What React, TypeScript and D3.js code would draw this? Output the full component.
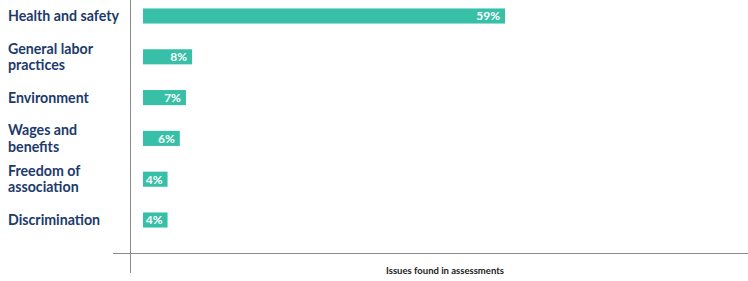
import React, { useEffect, useRef } from 'react';
import * as d3 from 'd3';

const categories = [
  ['Health and safety'],
  ['General labor', 'practices'],
  ['Environment'],
  ['Wages and', 'benefits'],
  ['Freedom of', 'association'],
  ['Discrimination'],
];
const values = [59, 8, 7, 6, 4, 4];
const axisTitle = 'Issues found in assessments';

export default function App() {
  const ref = useRef<SVGSVGElement>(null);

  useEffect(() => {
    const width = 748;
    const height = 281;
    const svg = d3.select(ref.current);
    svg.selectAll('*').remove();

    const x = d3.scaleLinear().domain([0, 59]).range([143, 505]);
    const y = d3.scaleBand<number>()
      .domain(d3.range(values.length))
      .range([-4.4, 240.4])
      .paddingInner(0.63)
      .paddingOuter(0.315);

    const font = 'Lato, "Open Sans", sans-serif';

    // bars
    const g = svg.append('g');
    g.selectAll('rect')
      .data(values)
      .join('rect')
      .attr('x', x(0))
      .attr('y', (_, i) => y(i)!)
      .attr('width', d => x(d) - x(0))
      .attr('height', y.bandwidth())
      .attr('fill', '#38bfa7');

    g.selectAll('text.val')
      .data(values)
      .join('text')
      .attr('class', 'val')
      .attr('x', d => x(d) - 5)
      .attr('y', (_, i) => y(i)! + y.bandwidth() / 2)
      .attr('dy', '0.36em')
      .attr('text-anchor', 'end')
      .attr('fill', '#fff')
      .attr('font-family', font)
      .attr('font-weight', 700)
      .attr('font-size', 12)
      .text(d => `${d}%`);

    // category labels
    const lab = svg.append('g');
    categories.forEach((lines, i) => {
      const cy = y(i)! + y.bandwidth() / 2;
      const lh = 16.5;
      const t = lab.append('text')
        .attr('font-family', font)
        .attr('font-weight', 700)
        .attr('font-size', 14.2)
        .attr('fill', '#1d3a6b');
      lines.forEach((line, j) => {
        t.append('tspan')
          .attr('x', 8)
          .attr('y', cy + (j - (lines.length - 1) / 2) * lh)
          .attr('dy', '0.35em')
          .text(line);
      });
    });

    // axes lines
    svg.append('line')
      .attr('x1', 130.5).attr('x2', 130.5)
      .attr('y1', 0).attr('y2', 273)
      .attr('stroke', '#8a8a8a').attr('stroke-width', 1);
    svg.append('line')
      .attr('x1', 113).attr('x2', width)
      .attr('y1', 253.5).attr('y2', 253.5)
      .attr('stroke', '#8a8a8a').attr('stroke-width', 1);

    svg.append('text')
      .attr('x', 445)
      .attr('y', 274)
      .attr('text-anchor', 'middle')
      .attr('font-family', font)
      .attr('font-weight', 700)
      .attr('font-size', 9.5)
      .attr('fill', '#222')
      .text(axisTitle);

    svg.attr('width', width).attr('height', height);
  }, []);

  return (
    <svg ref={ref} style={{ position: 'absolute', top: 0, left: 0, background: '#fff' }} />
  );
}
